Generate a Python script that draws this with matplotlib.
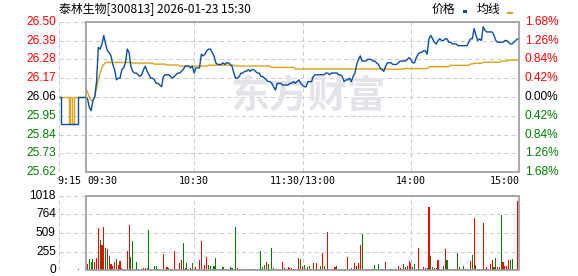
import numpy as np
import matplotlib
matplotlib.use('agg')
import matplotlib.pyplot as plt
from matplotlib.patches import Rectangle

plt.rcParams['font.family'] = ['Liberation Sans', 'DejaVu Sans']

# ---- data ----
title = '泰林生物[300813] 2026-01-23 15:30'
pre_close = 26.06
price_ticks = [26.50, 26.39, 26.28, 26.17, 26.06, 25.95, 25.84, 25.73, 25.62]
pct_labels = ['1.68%', '1.26%', '0.84%', '0.42%', '0.00%', '0.42%', '0.84%', '1.26%', '1.68%']
vol_ticks = [0, 255, 509, 764, 1018]
time_labels = ['10:30', '11:30/13:00', '14:00']
time_pos = [60, 120, 180]

# pre-market (9:16 - 9:30), minutes relative to 9:30
pre_min = list(range(-14, 1))
pre_price = [26.06, 25.90, 25.90, 25.90, 25.90, 25.90, 25.90, 25.90, 25.90, 25.90,
             26.06, 26.06, 26.06, 26.06, 26.06]
pre_avg = [26.06, 26.06, 26.06, 26.06, 26.06, 25.90, 26.06, 25.90, 26.06, 26.06,
           26.06, 26.06, 26.06, 26.06, 26.06]
auction_min = -4
auction_vol = 18

# trading session, one value per minute 9:30 .. 15:00 (241 points)
price = [
    26.06, 26.05, 26.00, 25.98, 26.04, 26.06, 26.15, 26.35, 26.34, 26.37,
    26.42, 26.37, 26.33, 26.32, 26.30, 26.25, 26.22, 26.16, 26.17, 26.17,
    26.22, 26.23, 26.26, 26.34, 26.32, 26.24, 26.21, 26.20, 26.20, 26.19,
    26.18, 26.19, 26.22, 26.24, 26.21, 26.19, 26.17, 26.17, 26.16, 26.14,
    26.14, 26.13, 26.12, 26.18, 26.19, 26.19, 26.19, 26.18, 26.17, 26.18,
    26.19, 26.20, 26.20, 26.21, 26.22, 26.24, 26.24, 26.24, 26.23, 26.24,
    26.20, 26.23, 26.23, 26.23, 26.31, 26.30, 26.31, 26.33, 26.34, 26.34,
    26.32, 26.30, 26.26, 26.25, 26.25, 26.25, 26.26, 26.25, 26.26, 26.26,
    26.25, 26.24, 26.20, 26.17, 26.17, 26.18, 26.20, 26.20, 26.21, 26.21,
    26.22, 26.21, 26.22, 26.22, 26.21, 26.20, 26.20, 26.18, 26.18, 26.17,
    26.16, 26.15, 26.15, 26.14, 26.12, 26.10, 26.14, 26.14, 26.14, 26.13,
    26.13, 26.13, 26.13, 26.14, 26.14, 26.15, 26.14, 26.15, 26.16, 26.14,
    26.13, 26.12, 26.12, 26.15, 26.15, 26.15, 26.18, 26.19, 26.19, 26.19,
    26.19, 26.19, 26.19, 26.20, 26.20, 26.19, 26.20, 26.20, 26.20, 26.20,
    26.19, 26.19, 26.18, 26.15, 26.16, 26.16, 26.17, 26.15, 26.18, 26.20,
    26.25, 26.28, 26.30, 26.27, 26.27, 26.27, 26.28, 26.28, 26.28, 26.27,
    26.27, 26.26, 26.25, 26.23, 26.22, 26.21, 26.24, 26.26, 26.26, 26.26,
    26.25, 26.25, 26.25, 26.26, 26.27, 26.27, 26.27, 26.27, 26.28, 26.29,
    26.28, 26.26, 26.26, 26.29, 26.31, 26.32, 26.32, 26.33, 26.33, 26.31,
    26.40, 26.42, 26.40, 26.38, 26.37, 26.39, 26.40, 26.39, 26.39, 26.40,
    26.40, 26.38, 26.38, 26.37, 26.37, 26.37, 26.36, 26.36, 26.36, 26.36,
    26.36, 26.36, 26.38, 26.40, 26.40, 26.46, 26.42, 26.39, 26.40, 26.39,
    26.47, 26.45, 26.44, 26.44, 26.44, 26.44, 26.42, 26.39, 26.38, 26.38,
    26.38, 26.38, 26.39, 26.39, 26.38, 26.37, 26.37, 26.38, 26.39, 26.40,
    26.40,
]

# average price line, stored as runs (value, number of minutes)
avg_vals = [26.11, 26.09, 26.06, 26.04, 26.04, 26.06, 26.11, 26.16, 26.20, 26.235,
            26.25, 26.26, 26.263, 26.262, 26.258, 26.252, 26.247, 26.241, 26.246,
            26.241, 26.233, 26.224, 26.222, 26.226, 26.237, 26.245, 26.253, 26.257,
            26.263, 26.27, 26.276]
avg_runs = [1, 1, 1, 1, 1, 1, 1, 1, 1, 1,
            1, 1, 1, 13, 12, 7, 7, 16, 15,
            20, 13, 52, 8, 14, 12, 11, 2, 5,
            10, 4, 7]

volume = [
    0, 85, 155, 115, 150, 120, 170, 580, 415, 345,
    595, 305, 290, 195, 90, 60, 120, 155, 70, 125,
    25, 15, 10, 265, 620, 180, 405, 15, 115, 15,
    10, 20, 25, 30, 30, 555, 15, 10, 60, 60,
    15, 20, 10, 225, 15, 45, 28, 14, 14, 266,
    14, 14, 101, 142, 376, 28, 101, 14, 28, 101,
    14, 41, 14, 142, 404, 14, 73, 183, 73, 55,
    14, 55, 170, 14, 14, 14, 41, 14, 14, 14,
    41, 28, 14, 596, 28, 14, 14, 14, 14, 14,
    14, 14, 14, 14, 14, 14, 14, 266, 41, 69,
    115, 87, 14, 307, 28, 14, 14, 14, 14, 115,
    28, 14, 41, 28, 28, 14, 14, 14, 170, 156,
    55, 69, 14, 41, 55, 14, 101, 14, 101, 14,
    55, 239, 55, 14, 527, 14, 14, 14, 41, 55,
    14, 14, 14, 14, 14, 183, 14, 28, 14, 101,
    55, 101, 350, 500, 14, 14, 14, 14, 14, 14,
    69, 14, 87, 14, 14, 14, 115, 14, 14, 14,
    14, 14, 14, 60, 28, 14, 87, 41, 55, 128,
    96, 41, 87, 14, 307, 14, 14, 41, 28, 28,
    858, 197, 41, 28, 28, 142, 14, 14, 60, 289,
    142, 14, 14, 14, 14, 14, 239, 41, 14, 55,
    14, 14, 14, 128, 211, 720, 73, 14, 14, 14,
    651, 14, 41, 14, 87, 142, 46, 170, 46, 46,
    748, 115, 60, 60, 142, 142, 156, 14, 14, 940,
    0,
]
vol_dir = (
    'rrgggrrrgr' 'rgrgrrrgrr' 'grrrrggrgg' 'rrrrrggggg' 'rggrrrgggr'
    'rgrrgrgrrg' 'rrgrrrrrgg' 'gggrgggrrr' 'ggggrrrrrr' 'rrrggggggg'
    'rggggggggr' 'rgrrrrrrrg' 'rgrrgrrrrr' 'grggrrrrrg' 'gggggrrggr'
    'rrrgrrrrgg' 'grggggrrgg' 'rrrrgrrgrr' 'rgggrrgrrg' 'rgrggrrggr'
    'gggggggrrg' 'rggrgrgrrr' 'rrrgrrggrr' 'grrrrggrrr' 'r'
)

# ---- style ----
BLUE = '#0b4fa0'
ORANGE = '#dca21e'
RED = '#ff0000'
GREEN = '#008000'
GRID = '#cccccc'
FRAME = '#999999'
W, H = 578, 276


def rect(x0, x1, ytop, ybot):
    return [x0 / W, 1 - ybot / H, (x1 - x0) / W, (ybot - ytop) / H]


fig = plt.figure(figsize=(W / 100, H / 100), dpi=100)
fig.patch.set_facecolor('white')
ax = fig.add_axes(rect(58.6, 519.3, 21.7, 172.3))
axv = fig.add_axes(rect(58.6, 519.3, 195.7, 270.3))

minutes = np.arange(len(price))
avg = np.repeat(avg_vals, avg_runs)

for a, ylo, yhi, yt in [(ax, price_ticks[-1], price_ticks[0], price_ticks),
                        (axv, 0, vol_ticks[-1], vol_ticks)]:
    a.set_xlim(-15, 240)
    a.set_ylim(ylo, yhi)
    a.axis('off')
    for y in yt:
        a.axhline(y, color=GRID, lw=0.75, ls=(0, (4, 3)), zorder=0)
    for t in [-15] + time_pos:
        a.axvline(t, color=GRID, lw=0.75, ls=(0, (4, 3)), zorder=0)
    a.add_patch(Rectangle((0, ylo), 240, yhi - ylo, fill=False, ec=FRAME,
                          lw=1.2, clip_on=False, zorder=5))

# watermark
ax.text(0.543, 0.5, '东方财富', transform=ax.transAxes, ha='center', va='center',
        fontsize=28, fontweight='bold', color='#e3e3e9', zorder=1,
        family=['Noto Sans CJK SC'])

ax.plot(pre_min, pre_avg, color=ORANGE, lw=1.0, drawstyle='steps-mid', zorder=3)
ax.plot(pre_min, pre_price, color=BLUE, lw=1.0, drawstyle='steps-mid', zorder=4)
ax.plot(minutes, avg, color=ORANGE, lw=1.0, zorder=3)
ax.plot(minutes, price, color=BLUE, lw=1.0, zorder=4)

# price tick labels
for v, p in zip(price_ticks, pct_labels):
    c = RED if v > pre_close + 1e-9 else (GREEN if v < pre_close - 1e-9 else 'black')
    ax.annotate(f'{v:.2f}', xy=(0, v), xycoords=('axes fraction', 'data'),
                xytext=(-2, 0), textcoords='offset points', ha='right', va='center',
                fontsize=8.6, color=c)
    ax.annotate(p, xy=(1, v), xycoords=('axes fraction', 'data'),
                xytext=(4, 0), textcoords='offset points', ha='left', va='center',
                fontsize=8.6, color=c)

# time labels
tkw = dict(xycoords=('data', 'axes fraction'), textcoords='offset points',
           va='center', fontsize=7.2, family='DejaVu Sans Mono')
ax.annotate('9:15', xy=(-15, 0), xytext=(-1, -6.6), ha='left', **tkw)
ax.annotate('09:30', xy=(0, 0), xytext=(1, -6.6), ha='left', **tkw)
for lab, t in zip(time_labels, time_pos):
    ax.annotate(lab, xy=(t, 0), xytext=(0, -6.6), ha='center', **tkw)
ax.annotate('15:00', xy=(240, 0), xytext=(0.5, -6.6), ha='right', **tkw)

# volume
vcol = [RED if d == 'r' else GREEN for d in vol_dir]
axv.bar(minutes, volume, width=0.6, color=vcol, linewidth=0, zorder=3)
axv.bar([auction_min], [auction_vol], width=0.6, color=RED, linewidth=0, zorder=3)
for v in vol_ticks:
    axv.annotate(str(v), xy=(0, v), xycoords=('axes fraction', 'data'),
                 xytext=(-2, 0), textcoords='offset points', ha='right', va='center',
                 fontsize=8.6, color='black')

# title and legend
cjk = ['Noto Sans CJK SC', 'DejaVu Sans']
fig.text(59 / W, 1 - 9.2 / H, title, ha='left', va='center', fontsize=8.6, family=cjk)
fig.text(431.5 / W, 1 - 9.2 / H, '价格', ha='left', va='center', fontsize=8.6, family=cjk)
fig.text(477 / W, 1 - 9.2 / H, '均线', ha='left', va='center', fontsize=8.6, family=cjk)
fig.patches.append(Rectangle((462.7 / W, 1 - 13.3 / H), 4 / W, 3.3 / H,
                             transform=fig.transFigure, color=BLUE, lw=0))
fig.patches.append(Rectangle((507.3 / W, 1 - 14 / H), 5.4 / W, 1.8 / H,
                             transform=fig.transFigure, color=ORANGE, lw=0))

fig.savefig('out.png', dpi=100)
